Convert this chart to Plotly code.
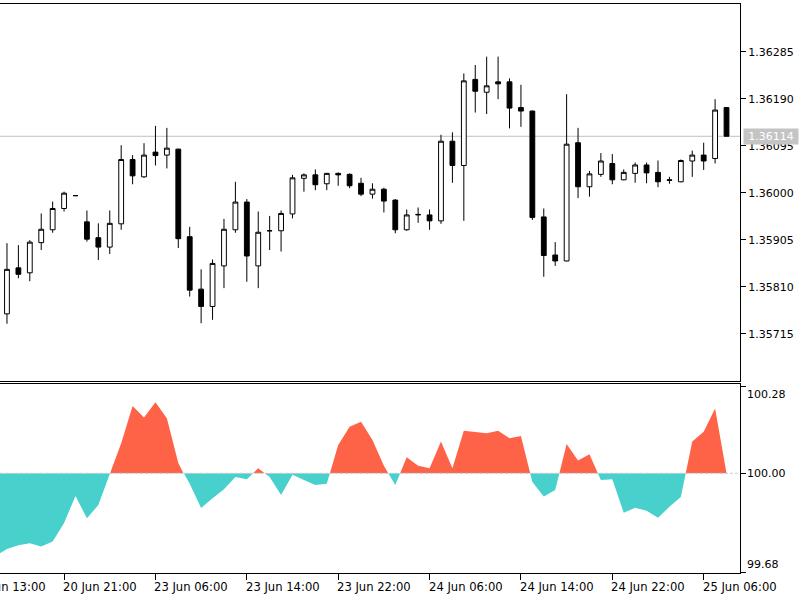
import plotly.graph_objects as go

# ---------------- data ----------------
bar_index = list(range(64))
open_ = [1.35755, 1.35848, 1.35838, 1.35899, 1.35925, 1.35968, 1.35994, 1.35941, 1.35909, 1.35890,
         1.35937, 1.36067, 1.36032, 1.36082, 1.36076, 1.36088, 1.35911, 1.35805, 1.35770, 1.35852,
         1.35925, 1.35981, 1.35852, 1.35923, 1.35923, 1.35957, 1.36029, 1.36036, 1.36018, 1.36039,
         1.36037, 1.36019, 1.35997, 1.36007, 1.35985, 1.35925, 1.35955, 1.35955, 1.35943, 1.36104,
         1.36055, 1.36229, 1.36203, 1.36224, 1.36224, 1.36172, 1.36165, 1.35951, 1.35874, 1.35862,
         1.36101, 1.36012, 1.36037, 1.36059, 1.36026, 1.36039, 1.36056, 1.36041, 1.36026, 1.36022,
         1.36064, 1.36076, 1.36069, 1.36172]
high = [1.35898, 1.35894, 1.35904, 1.35958, 1.35982, 1.36002, 1.35994, 1.35964, 1.35938, 1.35964,
        1.36096, 1.36076, 1.36100, 1.36135, 1.36131, 1.36089, 1.35931, 1.35845, 1.35865, 1.35947,
        1.36022, 1.35987, 1.35962, 1.35953, 1.35964, 1.36036, 1.36039, 1.36047, 1.36040, 1.36041,
        1.36039, 1.36030, 1.36019, 1.36010, 1.35987, 1.35966, 1.35970, 1.35966, 1.36117, 1.36122,
        1.36241, 1.36258, 1.36275, 1.36275, 1.36231, 1.36218, 1.36166, 1.35968, 1.35900, 1.36199,
        1.36131, 1.36044, 1.36080, 1.36078, 1.36047, 1.36061, 1.36061, 1.36065, 1.36032, 1.36067,
        1.36085, 1.36101, 1.36189, 1.36172]
low = [1.35735, 1.35827, 1.35821, 1.35884, 1.35919, 1.35962, 1.35994, 1.35901, 1.35864, 1.35876,
       1.35925, 1.36017, 1.36030, 1.36055, 1.36049, 1.35888, 1.35790, 1.35736, 1.35743, 1.35807,
       1.35919, 1.35820, 1.35807, 1.35884, 1.35881, 1.35948, 1.36002, 1.36005, 1.36005, 1.36014,
       1.36009, 1.35993, 1.35988, 1.35960, 1.35918, 1.35923, 1.35939, 1.35925, 1.35937, 1.36020,
       1.35943, 1.36162, 1.36159, 1.36189, 1.36130, 1.36133, 1.35945, 1.35830, 1.35852, 1.35861,
       1.35989, 1.35992, 1.36032, 1.36017, 1.36025, 1.36020, 1.36019, 1.36011, 1.36018, 1.36021,
       1.36032, 1.36046, 1.36059, 1.36114]
close = [1.35845, 1.35835, 1.35900, 1.35926, 1.35968, 1.35999, 1.35994, 1.35906, 1.35890, 1.35938,
         1.36067, 1.36034, 1.36076, 1.36075, 1.36090, 1.35907, 1.35803, 1.35770, 1.35857, 1.35926,
         1.35981, 1.35872, 1.35920, 1.35923, 1.35958, 1.36030, 1.36036, 1.36016, 1.36039, 1.36036,
         1.36014, 1.35997, 1.36007, 1.35983, 1.35925, 1.35955, 1.35956, 1.35943, 1.36104, 1.36055,
         1.36226, 1.36205, 1.36216, 1.36220, 1.36171, 1.36165, 1.35950, 1.35873, 1.35862, 1.36098,
         1.36012, 1.36038, 1.36064, 1.36026, 1.36041, 1.36056, 1.36040, 1.36022, 1.36025, 1.36065,
         1.36076, 1.36064, 1.36167, 1.36114]

osc_index = list(range(-1, 64))
osc = [99.734,
       99.756, 99.768, 99.775, 99.764, 99.780, 99.840, 99.927, 99.855, 99.898, 99.998,
       100.097, 100.217, 100.180, 100.229, 100.177, 100.033, 99.966, 99.888, 99.920, 99.949,
       99.988, 99.981, 100.016, 99.988, 99.930, 99.995, 99.978, 99.962, 99.966, 100.091,
       100.150, 100.166, 100.107, 100.024, 99.962, 100.052, 100.024, 100.016, 100.102, 100.016,
       100.137, 100.134, 100.129, 100.137, 100.113, 100.120, 99.972, 99.925, 99.946, 100.094,
       100.041, 100.061, 99.978, 99.981, 99.873, 99.889, 99.879, 99.857, 99.892, 99.924,
       100.102, 100.134, 100.209, 100.000]

price_ticks = [1.35715, 1.35810, 1.35905, 1.36000, 1.36095, 1.36190, 1.36285]
osc_ticks = [99.68, 100.00, 100.28]
date_tick_index = [-3, 5, 13, 21, 29, 37, 45, 53, 61]
date_tick_text = ["20 Jun 13:00", "20 Jun 21:00", "23 Jun 06:00", "23 Jun 14:00", "23 Jun 22:00",
                  "24 Jun 06:00", "24 Jun 14:00", "24 Jun 22:00", "25 Jun 06:00"]
last_price = 1.36114
osc_level = 100.0

# ---------------- layout constants ----------------
W, H = 800, 600
plot_right = 740 / W
x_range = [-0.61, 64.18]
main_domain = [(H - 381) / H, (H - 4) / H]
main_range = [1.356193, 1.363814]
osc_domain = [(H - 573.3) / H, (H - 384) / H]
osc_range = [99.678, 100.2875]
level_frac = osc_domain[0] + (osc_level - osc_range[0]) / (osc_range[1] - osc_range[0]) * (osc_domain[1] - osc_domain[0])

RED = "#FF6347"
TURQ = "#48D1CC"
FONT = "DejaVu Sans"


def x_paper(i):
    return (i - x_range[0]) / (x_range[1] - x_range[0]) * plot_right


fig = go.Figure()

fig.add_trace(go.Candlestick(
    x=bar_index, open=open_, high=high, low=low, close=close,
    xaxis="x", yaxis="y",
    increasing=dict(line=dict(color="black", width=1), fillcolor="white"),
    decreasing=dict(line=dict(color="black", width=1), fillcolor="black"),
    whiskerwidth=0, showlegend=False, hoverinfo="skip",
))

level_line = [osc_level] * len(osc_index)
# positive part (clipped by the upper sub-area)
fig.add_trace(go.Scatter(x=osc_index, y=level_line, mode="lines", line=dict(width=0),
                         xaxis="x2", yaxis="y3", showlegend=False, hoverinfo="skip"))
fig.add_trace(go.Scatter(x=osc_index, y=osc, mode="lines", line=dict(width=0, color=RED),
                         fill="tonexty", fillcolor=RED,
                         xaxis="x2", yaxis="y3", showlegend=False, hoverinfo="skip"))
# negative part (clipped by the lower sub-area)
fig.add_trace(go.Scatter(x=osc_index, y=level_line, mode="lines", line=dict(width=0),
                         xaxis="x2", yaxis="y4", showlegend=False, hoverinfo="skip"))
fig.add_trace(go.Scatter(x=osc_index, y=osc, mode="lines", line=dict(width=0, color=TURQ),
                         fill="tonexty", fillcolor=TURQ,
                         xaxis="x2", yaxis="y4", showlegend=False, hoverinfo="skip"))

axis_common = dict(showgrid=False, zeroline=False, linecolor="black", linewidth=1,
                   tickcolor="black", tickwidth=1,
                   tickfont=dict(family=FONT, size=11, color="black"))

fig.update_layout(
    width=W, height=H, margin=dict(l=0, r=0, t=0, b=0),
    paper_bgcolor="white", plot_bgcolor="rgba(0,0,0,0)",
    showlegend=False, boxgap=0.4,
    xaxis=dict(domain=[0, plot_right], range=x_range, anchor="y", showline=True, mirror=True,
               ticks="", showticklabels=False, rangeslider=dict(visible=False), **axis_common),
    yaxis=dict(domain=main_domain, range=main_range, anchor="x", side="right", showline=True,
               ticks="outside", ticklen=5, tickvals=price_ticks,
               ticktext=[f"{v:.5f}" for v in price_ticks], **axis_common),
    xaxis2=dict(domain=[0, plot_right], range=x_range, anchor="y2", showline=True, mirror=True,
                ticks="outside", ticklen=6,
                tickvals=[i for i in date_tick_index if x_range[0] <= i <= x_range[1]],
                showticklabels=False, **axis_common),
    yaxis2=dict(domain=osc_domain, range=osc_range, anchor="x2", side="right", showline=True,
                ticks="outside", ticklen=5, tickvals=osc_ticks, showticklabels=False, **axis_common),
    yaxis3=dict(domain=[level_frac, osc_domain[1]], range=[osc_level, osc_range[1]],
                anchor="x2", visible=False),
    yaxis4=dict(domain=[osc_domain[0], level_frac], range=[osc_range[0], osc_level],
                anchor="x2", visible=False),
)

# current price line (below candles)
fig.add_shape(type="line", xref="paper", yref="y", x0=0, x1=plot_right, y0=last_price, y1=last_price,
              line=dict(color="#C0C0C0", width=1), layer="below")
# oscillator 100 level (dashed, above fills)
fig.add_shape(type="line", xref="paper", yref="y2", x0=0, x1=plot_right - 3 / W, y0=osc_level, y1=osc_level,
              line=dict(color="#C8C8C8", width=1, dash="3px,2px"), layer="above")

annotations = []
# current price label
annotations.append(dict(xref="paper", yref="y", x=plot_right + 3 / W, y=last_price, xanchor="left",
                        yanchor="middle", text=f"{last_price:.5f}", showarrow=False, bgcolor="#C4C4C4",
                        borderpad=1, width=52, align="center",
                        font=dict(family=FONT, size=11, color="white")))
# oscillator axis labels
for v, anc in zip(osc_ticks, ["bottom", "middle", "top"]):
    annotations.append(dict(xref="paper", yref="y2", x=plot_right + 5 / W, y=v, xanchor="left",
                            yanchor=anc, text=f"{v:.2f}", showarrow=False,
                            font=dict(family=FONT, size=11, color="black")))
# date labels (left aligned at tick)
for i, t in zip(date_tick_index, date_tick_text):
    annotations.append(dict(xref="paper", yref="paper", x=x_paper(i), y=(H - 587) / H, xanchor="left",
                            yanchor="middle", xshift=-3, text=t, showarrow=False,
                            font=dict(family=FONT, size=11.6, color="black")))
fig.update_layout(annotations=annotations)

fig.write_html("out.html")
